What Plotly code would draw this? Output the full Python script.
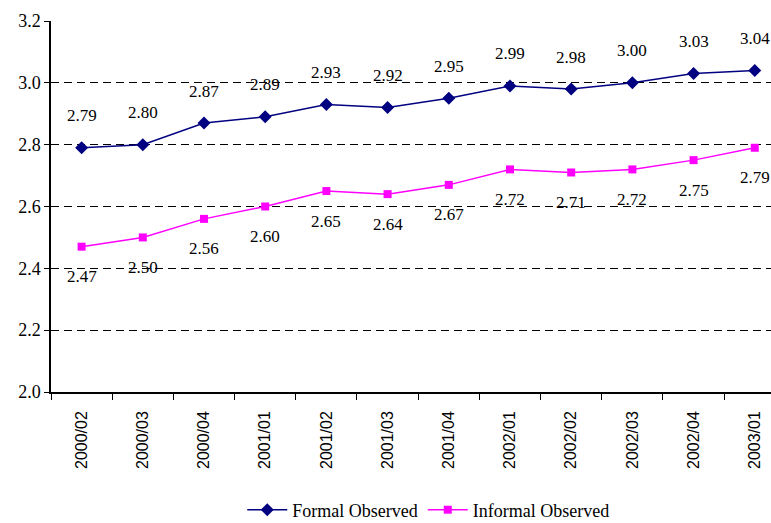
import plotly.graph_objects as go

# Quarterly periods and observed averages
quarters = ["2000/02", "2000/03", "2000/04", "2001/01", "2001/02", "2001/03",
            "2001/04", "2002/01", "2002/02", "2002/03", "2002/04", "2003/01"]
formal_observed = [2.79, 2.80, 2.87, 2.89, 2.93, 2.92, 2.95, 2.99, 2.98, 3.00, 3.03, 3.04]
informal_observed = [2.47, 2.50, 2.56, 2.60, 2.65, 2.64, 2.67, 2.72, 2.71, 2.72, 2.75, 2.79]
y_ticks = [2.0, 2.2, 2.4, 2.6, 2.8, 3.0, 3.2]

SERIF = "Liberation Serif"
SANS = "Liberation Sans"
NAVY = "#000080"
MAGENTA = "#FF00FF"

fig = go.Figure()
fig.add_trace(go.Scatter(
    x=quarters, y=formal_observed, name="Formal Observed", mode="lines+markers",
    line=dict(color=NAVY, width=1.5),
    marker=dict(symbol="diamond", size=10, color=NAVY),
))
fig.add_trace(go.Scatter(
    x=quarters, y=informal_observed, name="Informal Observed", mode="lines+markers",
    line=dict(color=MAGENTA, width=1.5),
    marker=dict(symbol="square", size=8, color=MAGENTA),
))

# Value labels: above the formal series, below the informal series
for q, v in zip(quarters, formal_observed):
    fig.add_annotation(x=q, y=v, text=f"{v:.2f}", showarrow=False, yshift=32,
                       font=dict(family=SERIF, size=17, color="#000000"))
for q, v in zip(quarters, informal_observed):
    fig.add_annotation(x=q, y=v, text=f"{v:.2f}", showarrow=False, yshift=-30,
                       font=dict(family=SERIF, size=17, color="#000000"))

fig.update_layout(
    width=771, height=523,
    margin=dict(l=51, r=0, t=21, b=131, autoexpand=False),
    paper_bgcolor="white", plot_bgcolor="white",
    showlegend=True,
    legend=dict(orientation="h", x=0.524, xanchor="center", y=-0.318, yanchor="middle",
                font=dict(family=SERIF, size=18, color="#000000"), itemwidth=40,
                bgcolor="rgba(0,0,0,0)"),
)
fig.update_xaxes(
    type="category",
    range=[-0.5, 11.265],
    tickangle=-90, tickfont=dict(family=SANS, size=16, color="#000000"),
    ticks="outside", ticklen=6, tickcolor="#000000", tickson="boundaries",
    showline=True, linecolor="#000000", linewidth=1.5,
    showgrid=False, zeroline=False, automargin=False,
    ticklabelstandoff=11,
)
fig.update_yaxes(
    range=[2.0, 3.2],
    tickmode="array", tickvals=y_ticks, ticktext=[f"{t:.1f}" for t in y_ticks],
    tickfont=dict(family=SERIF, size=18, color="#000000"),
    ticks="outside", ticklen=5, tickcolor="#000000",
    showline=True, linecolor="#000000", linewidth=1.5,
    showgrid=True, gridcolor="#000000", gridwidth=1, griddash="8px,5px",
    zeroline=False, automargin=False,
)

fig.write_html("out.html")
